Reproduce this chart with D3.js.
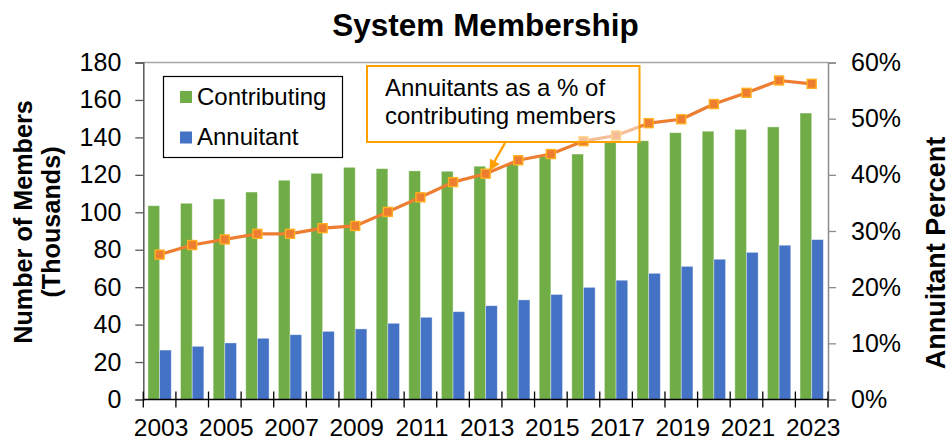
<!DOCTYPE html>
<html>
<head>
<meta charset="utf-8">
<script src="https://cdn.jsdelivr.net/npm/d3@7"></script>
<style>
  html, body { margin: 0; padding: 0; background: #fff; }
  svg { display: block; font-family: "Liberation Sans", Arial, sans-serif; }
</style>
</head>
<body>
<svg id="chart" width="952" height="441"></svg>
<script>
// Membership counts (thousands) and annuitant share, 2003–2023
const years = [2003, 2004, 2005, 2006, 2007, 2008, 2009, 2010, 2011, 2012, 2013,
               2014, 2015, 2016, 2017, 2018, 2019, 2020, 2021, 2022, 2023];
const contributing = [103.5, 104.8, 107.1, 110.8, 117.1, 120.8, 124.0, 123.3, 122.1, 121.9, 124.6,
                      126.3, 129.7, 131.1, 137.7, 138.2, 142.5, 143.3, 144.3, 145.6, 153.0];
const annuitant = [26.4, 28.4, 30.2, 32.7, 34.6, 36.4, 37.7, 40.7, 43.9, 46.9, 50.1,
                   53.2, 56.1, 59.9, 63.7, 67.4, 71.1, 74.9, 78.6, 82.4, 85.4];
const annuitantPct = [0.258, 0.275, 0.285, 0.295, 0.295, 0.305, 0.309, 0.334, 0.360, 0.387, 0.402,
                      0.426, 0.437, 0.460, 0.470, 0.492, 0.499, 0.526, 0.546, 0.568, 0.562];
const yearLabels = [2003, 2005, 2007, 2009, 2011, 2013, 2015, 2017, 2019, 2021, 2023];
const leftTicks = [0, 20, 40, 60, 80, 100, 120, 140, 160, 180];
const rightTicks = [0, 0.1, 0.2, 0.3, 0.4, 0.5, 0.6];
const seriesNames = ["Contributing", "Annuitant"];
const seriesColors = ["#70AD47", "#4472C4"];

const svg = d3.select("#chart");
const L = 143.3, R = 828, T = 62.5, B = 399.5;

const x = d3.scaleBand().domain(years).range([L, R]).padding(0);
const xs = d3.scaleBand().domain(seriesNames).range([0, x.bandwidth()])
  .paddingInner(0).paddingOuter(0.4);
const y = d3.scaleLinear().domain([0, 180]).range([B, T]);
const y2 = d3.scaleLinear().domain([0, 0.6]).range([B, T]);

const rows = years.map((yr, i) => ({ year: yr, Contributing: contributing[i], Annuitant: annuitant[i], pct: annuitantPct[i] }));

// Title
svg.append("text").attr("x", 485.5).attr("y", 36).attr("text-anchor", "middle")
  .attr("font-size", 31.5).attr("font-weight", "bold").attr("fill", "#000")
  .text("System Membership");

// Plot frame (top & right)
svg.append("line").attr("x1", L).attr("x2", R).attr("y1", T).attr("y2", T)
  .attr("stroke", "#A6A6A6").attr("stroke-width", 1.5);

// Bars
const groups = svg.append("g").selectAll("g").data(rows).join("g")
  .attr("transform", d => `translate(${x(d.year)},0)`);
groups.selectAll("rect").data(d => seriesNames.map((s, k) => ({ s, k, v: d[s] }))).join("rect")
  .attr("x", d => xs(d.s))
  .attr("width", xs.bandwidth())
  .attr("y", d => y(d.v))
  .attr("height", d => y(0) - y(d.v))
  .attr("fill", d => seriesColors[d.k])
  .attr("stroke", "rgba(255,255,255,0.45)").attr("stroke-width", 0.8);

// Left axis
const yAxis = svg.append("g").attr("transform", `translate(${L},0)`)
  .call(d3.axisLeft(y).tickValues(leftTicks).tickSize(8).tickPadding(14).tickFormat(d3.format("d")));
yAxis.select(".domain").attr("stroke", "#595959").attr("stroke-width", 1.5);
yAxis.selectAll(".tick line").attr("stroke", "#595959").attr("stroke-width", 1.3);
yAxis.selectAll("text").attr("font-size", 25).attr("fill", "#000")
  .attr("font-family", "Liberation Sans, Arial, sans-serif");

// Right axis
const y2Axis = svg.append("g").attr("transform", `translate(${R},0)`)
  .call(d3.axisRight(y2).tickValues(rightTicks).tickSize(8).tickPadding(15).tickFormat(d3.format(".0%")));
y2Axis.select(".domain").attr("stroke", "#8C8C8C").attr("stroke-width", 1.5);
y2Axis.selectAll(".tick line").attr("stroke", "#8C8C8C").attr("stroke-width", 1.3);
y2Axis.selectAll("text").attr("font-size", 25).attr("fill", "#000")
  .attr("font-family", "Liberation Sans, Arial, sans-serif");

// Bottom axis: baseline, boundary ticks, labels for odd years
svg.append("line").attr("x1", L).attr("x2", R).attr("y1", B).attr("y2", B)
  .attr("stroke", "#000").attr("stroke-width", 1.6);
const boundaries = years.map(yr => x(yr)).concat([R]);
svg.append("g").selectAll("line").data(boundaries).join("line")
  .attr("x1", d => d).attr("x2", d => d).attr("y1", B - 8).attr("y2", B + 8)
  .attr("stroke", "#000").attr("stroke-width", 1.3);
const xAxis = svg.append("g").attr("transform", `translate(0,${B})`)
  .call(d3.axisBottom(x).tickValues(yearLabels).tickSize(0).tickPadding(19));
xAxis.select(".domain").remove();
xAxis.selectAll("text").attr("font-size", 24.5).attr("fill", "#000")
  .attr("font-family", "Liberation Sans, Arial, sans-serif")
  .attr("dx", 1.5);

// Annuitant percentage line with square markers
const line = d3.line().x(d => x(d.year) + x.bandwidth() / 2).y(d => y2(d.pct));
svg.append("path").datum(rows).attr("d", line)
  .attr("fill", "none").attr("stroke", "#ED7D31").attr("stroke-width", 3.2)
  .attr("stroke-linejoin", "round");
const ms = 9;
svg.append("g").selectAll("rect").data(rows).join("rect")
  .attr("x", d => x(d.year) + x.bandwidth() / 2 - ms / 2)
  .attr("y", d => y2(d.pct) - ms / 2)
  .attr("width", ms).attr("height", ms)
  .attr("fill", "#ED7D31").attr("stroke", "#FFB020").attr("stroke-width", 1.4);

// Legend
const lg = svg.append("g");
lg.append("rect").attr("x", 163.5).attr("y", 76.5).attr("width", 179).attr("height", 81)
  .attr("fill", "#fff").attr("stroke", "#000").attr("stroke-width", 1.2);
seriesNames.forEach((s, k) => {
  lg.append("rect").attr("x", 180).attr("y", 91 + k * 40.5).attr("width", 12).attr("height", 12)
    .attr("fill", seriesColors[k]);
  lg.append("text").attr("x", 197).attr("y", 105 + k * 40).attr("font-size", 24).attr("fill", "#000")
    .text(s);
});

// Callout for the percentage line
const co = svg.append("g");
co.append("rect").attr("x", 367).attr("y", 66).attr("width", 272.5).attr("height", 76)
  .attr("fill", "#fff").attr("fill-opacity", 0.5)
  .attr("stroke", "#FFA000").attr("stroke-width", 2);
co.append("text").attr("x", 385).attr("y", 96).attr("font-size", 24).attr("fill", "#000")
  .text("Annuitants as a % of");
co.append("text").attr("x", 385).attr("y", 123.5).attr("font-size", 24).attr("fill", "#000")
  .text("contributing members");
const ax1 = 505, ay1 = 143, ax2 = 489.5, ay2 = 171;
co.append("line").attr("x1", ax1).attr("y1", ay1).attr("x2", ax2 + 3).attr("y2", ay2 - 6)
  .attr("stroke", "#FFA000").attr("stroke-width", 2.4);
const ang = Math.atan2(ay2 - ay1, ax2 - ax1);
const hl = 11, hw = 5.5;
const bx = ax2 - hl * Math.cos(ang), by = ay2 - hl * Math.sin(ang);
co.append("path")
  .attr("d", `M${ax2},${ay2} L${bx + hw * Math.sin(ang)},${by - hw * Math.cos(ang)} L${bx - hw * Math.sin(ang)},${by + hw * Math.cos(ang)} Z`)
  .attr("fill", "#FFA000");

// Axis titles
svg.append("text").attr("transform", "translate(32,222) rotate(-90)")
  .attr("text-anchor", "middle").attr("font-size", 25.2).attr("font-weight", "bold").attr("fill", "#000")
  .text("Number of Members");
svg.append("text").attr("transform", "translate(59.5,222) rotate(-90)")
  .attr("text-anchor", "middle").attr("font-size", 25.2).attr("font-weight", "bold").attr("fill", "#000")
  .text("(Thousands)");
svg.append("text").attr("transform", "translate(945,253) rotate(-90)")
  .attr("text-anchor", "middle").attr("font-size", 27).attr("font-weight", "bold").attr("fill", "#000")
  .text("Annuitant Percent");
</script>
</body>
</html>
